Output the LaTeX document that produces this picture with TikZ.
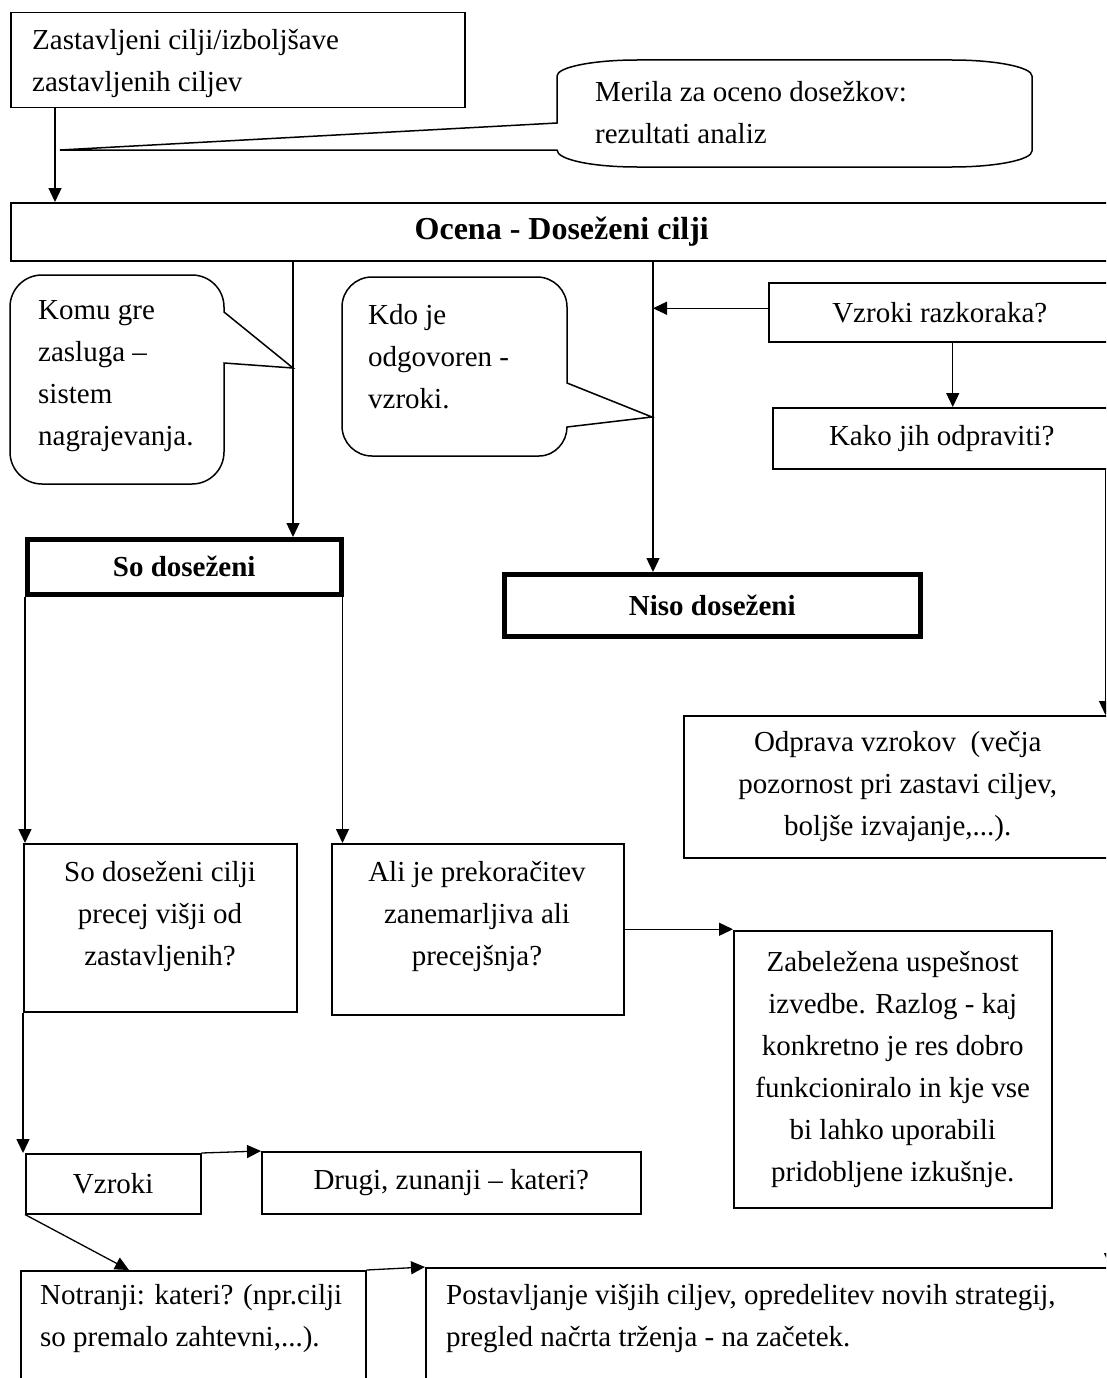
\documentclass[tikz,border=0pt]{standalone}
\usepackage{fontspec}
\setmainfont{Liberation Serif}
\usetikzlibrary{arrows.meta,calc}
\newcommand{\dgfs}{\fontsize{29}{42}\selectfont}
\newcommand{\dgfsb}{\fontsize{32}{42}\selectfont}
\begin{document}
\begin{tikzpicture}[x=1pt,y=-1pt,
  box/.style={draw, line width=1.5pt, inner sep=0pt, anchor=north west, align=center, font=\dgfs},
  thickbox/.style={box, line width=4.5pt, font=\dgfs\bfseries},
  txt/.style={inner sep=0pt, font=\dgfs, align=center},
  ltxt/.style={inner sep=0pt, font=\dgfs, align=left, anchor=west},
  bubble/.style={draw, line width=1.5pt, fill=white},
  arr/.style={line width=1.3pt, -{Triangle[length=14pt,width=13pt]}}]
\useasboundingbox (0,0) rectangle (1106,1378);
\fill[white] (0,0) rectangle (1106,1378);
\clip (0,0) rectangle (1106,1378);

% boxes
\node[box, minimum width=454pt, minimum height=95pt] (zast) at (10,12) {};
\node[ltxt] (zast-t) at (32,63) {Zastavljeni cilji/izboljšave\\zastavljenih ciljev};

\draw[bubble] (637,60) -- (952,60) .. controls (996.2,60) and (1032,67.2) .. (1032,76) -- (1032,151) .. controls (1032,159.8) and (996.2,167) .. (952,167) -- (637,167) .. controls (592.8,167) and (557,159.8) .. (557,150) -- (60,150) -- (557,123) -- (557,76) .. controls (557,67.2) and (592.8,60) .. (637,60) -- cycle;
\node[ltxt] (merila) at (595,113) {Merila za oceno dosežkov:\\rezultati analiz};

\node[box, minimum width=1102pt, minimum height=58pt, font=\dgfsb\bfseries] (ocena) at (10,202) {Ocena - Doseženi cilji};

\draw[bubble] (42,275) -- (192,275) .. controls (209.7,275) and (224,289.3) .. (224,307) -- (224,312) -- (293,368) -- (224,363) -- (224,452) .. controls (224,469.7) and (209.7,484) .. (192,484) -- (42,484) .. controls (24.3,484) and (10,469.7) .. (10,452) -- (10,307) .. controls (10,289.3) and (24.3,275) .. (42,275) -- cycle;
\node[ltxt] (komu) at (38,376) {Komu gre\\zasluga –\\sistem\\nagrajevanja.};

\draw[bubble] (372,277) -- (537,277) .. controls (553.6,277) and (567,290.4) .. (567,307) -- (567,383) -- (652,417) -- (567,427) .. controls (567,442) and (555,456) .. (539,456) -- (372,456) .. controls (355.4,456) and (342,442.6) .. (342,426) -- (342,307) .. controls (342,290.4) and (355.4,277) .. (372,277) -- cycle;
\node[ltxt] (kdo) at (368,357) {Kdo je\\odgovoren -\\vzroki.};

\node[box, minimum width=342pt, minimum height=59pt] (vzrk) at (768,282) {Vzroki razkoraka?};
\node[box, minimum width=338pt, minimum height=61pt] (kako) at (772,407) {Kako jih odpraviti?};

\node[thickbox, minimum width=314pt, minimum height=55pt] (so) at (25,537) {So doseženi};
\node[thickbox, minimum width=416pt, minimum height=62pt] (niso) at (502,572) {Niso doseženi};

\node[box, minimum width=428pt, minimum height=142pt] (odprava) at (683,715) {Odprava vzrokov~ (večja\\pozornost pri zastavi ciljev,\\boljše izvajanje,...).};

\node[box, minimum width=273pt, minimum height=168pt] (sodc) at (23,843) {};
\node[txt] (sodc-t) at (160,916) {So doseženi cilji\\precej višji od\\zastavljenih?};
\node[box, minimum width=292pt, minimum height=171pt] (ali) at (331,843) {};
\node[txt] (ali-t) at (477,916) {Ali je prekoračitev\\zanemarljiva ali\\precejšnja?};

\node[box, minimum width=318pt, minimum height=277pt] (zab) at (733,930) {Zabeležena uspešnost\\izvedbe. Razlog - kaj\\konkretno je res dobro\\funkcioniralo in kje vse\\bi lahko uporabili\\pridobljene izkušnje.};

\node[box, minimum width=175pt, minimum height=60pt] (vzroki) at (25,1153) {Vzroki};
\node[box, minimum width=379pt, minimum height=62pt] (drugi) at (261,1151) {Drugi, zunanji – kateri?};

\node[box, minimum width=345pt, minimum height=140pt] (notr) at (20,1270) {};
\node[ltxt] (notr-t) at (40,1319) {Notranji: kateri? (npr.cilji\\so premalo zahtevni,...).};
\node[box, minimum width=700pt, minimum height=140pt] (post) at (425,1267) {};
\node[ltxt] (post-t) at (446,1319) {Postavljanje višjih ciljev, opredelitev novih strategij,\\pregled načrta trženja - na začetek.};

% connectors
\coordinate (c1) at ($(zast.south west)+(45,0)$);
\draw[arr] (c1) -- (c1 |- ocena.north);
\coordinate (c2) at ($(so.north west)+(268,0)$);
\draw[arr] (c2 |- ocena.south) -- (c2);
\coordinate (c3) at ($(niso.north west)+(151,0)$);
\draw[arr] (c3 |- ocena.south) -- (c3);
\coordinate (c4) at ($(vzrk.west)+(0,-4)$);
\draw[arr] (c4) -- (c4 -| c3);
\coordinate (c5) at ($(vzrk.south)+(13,0)$);
\draw[arr] (c5) -- (c5 |- kako.north);
\coordinate (c6) at ($(kako.south east)+(-6,0)$);
\draw[arr] (c6) -- (c6 |- odprava.north);
\draw[arr] (so.south west) -- (so.south west |- sodc.north);
\coordinate (c7) at ($(so.south east)+(-1,0)$);
\draw[arr] (c7) -- (c7 |- ali.north);
\draw[arr] (sodc.south west) -- (sodc.south west |- vzroki.north);
\draw[arr] (ali.east) -- (ali.east -| zab.west);
\draw[arr] (vzroki.north east) -- (drugi.north west);
\draw[arr] (vzroki.south west) -- ($(notr.north west)+(109,0)$);
\draw[arr] (notr.north east) -- (post.north west);
\coordinate (c8) at ($(odprava.south east)+(-2,0)$);
\draw[arr] (c8) -- (c8 |- post.north);
\end{tikzpicture}
\end{document}
